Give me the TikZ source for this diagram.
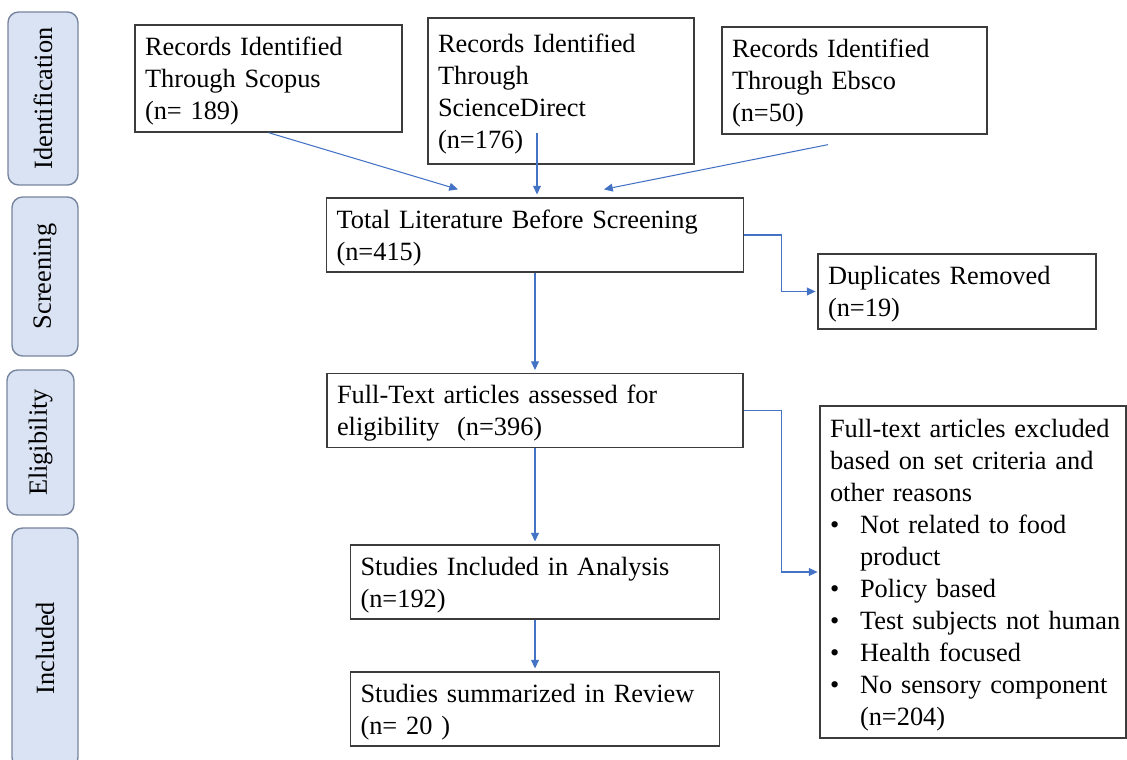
\documentclass[tikz,border=0pt]{standalone}
\usepackage{fontspec}
\setmainfont{Liberation Serif}
\usetikzlibrary{arrows.meta,positioning,calc}
\definecolor{prismaBlue}{RGB}{68,114,196}
\definecolor{prismaFill}{RGB}{218,227,243}
\definecolor{prismaEdge}{RGB}{118,132,158}
\definecolor{prismaLine}{RGB}{60,60,60}
\newcommand{\itembul}{\makebox[0.6cm][l]{\textbullet}}

\begin{document}
\begin{tikzpicture}[x=0.02cm,y=-0.02cm,
    font=\fontsize{15}{18.2}\selectfont,
    phase/.style={draw=prismaEdge,fill=prismaFill,rounded corners=6pt,
                  line width=0.8pt,rotate=90},
    box/.style={draw=prismaLine,line width=0.75pt,align=left,inner xsep=0.2cm,
                text height=13.6pt},
    arr/.style={draw=prismaBlue,line width=0.6pt,
                -{Triangle[length=5pt,width=4.5pt]}}]

    \useasboundingbox (0,0) rectangle (1127,760);

    % Phase labels
    \foreach \name/\x/\y/\w/\h/\txt in {
      ident/43/98.5/1.40/3.46/Identification,
      screen/45/276.5/1.32/3.18/Screening,
      elig/40.5/442.5/1.34/2.90/Eligibility,
      incl/45/648/1.32/4.80/Included}{
      \node[phase,minimum width=\h cm,minimum height=\w cm] (\name) at (\x,\y) {\txt};
    }

    % Boxes of the flow
    \foreach \name/\x/\y/\w/\h/\tw/\txt in {
      scopus/268.5/78.5/5.34/2.14/4.94/{Records Identified\\Through Scopus\\(n= 189)},
      sdirect/561/91/5.32/2.92/4.92/{Records Identified\\Through\\ScienceDirect\\(n=176)},
      ebsco/854.5/80.5/5.30/2.14/4.90/{Records Identified\\Through Ebsco\\(n=50)},
      total/535/235/8.34/1.48/7.94/{Total Literature Before Screening\\(n=415)},
      dup/957/291.5/5.56/1.50/5.16/{Duplicates Removed\\(n=19)},
      fulltext/535/410.5/8.32/1.48/7.92/{Full-Text articles assessed for\\eligibility~ (n=396)},
      studies/535/582/7.38/1.48/6.98/{Studies Included in Analysis\\(n=192)},
      summ/535/709/7.38/1.48/6.98/{Studies summarized in Review\\(n= 20 )}}{
      \node[box,minimum width=\w cm,minimum height=\h cm,text width=\tw cm]
        (\name) at (\x,\y) {\txt};
    }

    % Exclusion box
    \node[box,minimum width=6.12cm,minimum height=6.64cm,text width=5.72cm]
      (excl) at (973,572)
      {Full-text articles excluded\\based on set criteria and\\other reasons\\
       \itembul Not related to food\\\hspace*{0.6cm}product\\
       \itembul Policy based\\\mbox{\itembul Test subjects not human}\\
       \itembul Health focused\\\mbox{\itembul No sensory component}\\
       \hspace*{0.6cm}(n=204)};

    % Connectors
    \coordinate (sdout) at ([xshift=-0.48cm,yshift=0.64cm]sdirect.south);
    \coordinate (ebout) at ([xshift=-0.53cm,yshift=-0.2cm]ebsco.south);
    \draw[arr] (scopus.south) -- ([xshift=-1.54cm,yshift=0.16cm]total.north);
    \draw[arr,shorten >=1.6pt] (sdout) -- (sdout |- total.north);
    \draw[arr] (ebout) -- ([xshift=1.38cm,yshift=0.16cm]total.north);
    \draw[arr,shorten >=1.6pt] (total.south) -- (fulltext.north);
    \draw[arr] (total.east) -- ++(0.74cm,0) |- ([xshift=-1pt]dup.west);
    \draw[arr,shorten >=1.6pt] (fulltext.south) -- (studies.north);
    \draw[arr] (fulltext.east) -- ++(0.76cm,0) |- ([xshift=-1pt]excl.west);
    \draw[arr,shorten >=1.6pt] (studies.south) -- (summ.north);

\end{tikzpicture}
\end{document}
